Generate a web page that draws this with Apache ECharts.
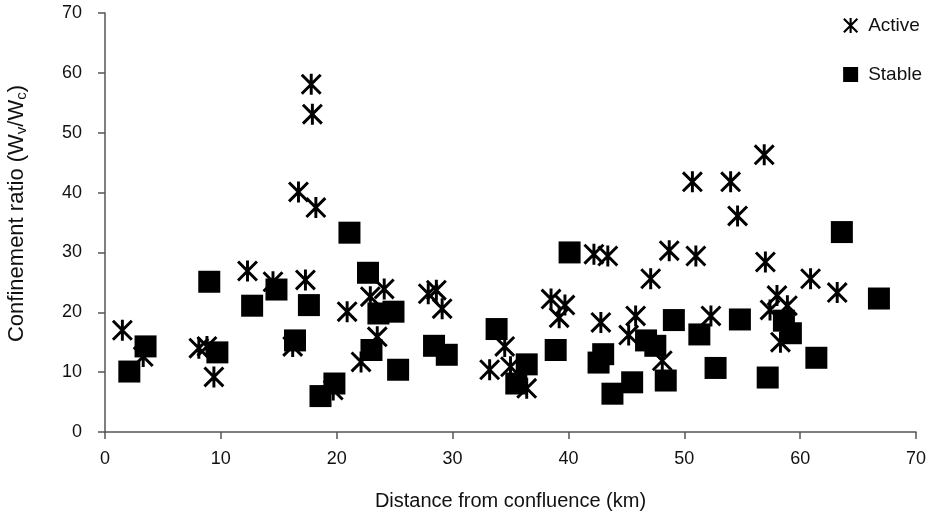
<!DOCTYPE html>
<html>
<head>
<meta charset="utf-8">
<title>Confinement ratio vs distance</title>
<script src="https://cdn.jsdelivr.net/npm/echarts@6/dist/echarts.min.js"></script>
<style>
  html, body { margin: 0; padding: 0; background: #fff; }
  #chart { width: 933px; height: 514px; }
</style>
</head>
<body>
<div id="chart"></div>
<script>
// distance from confluence (km), confinement ratio
const activeX = [1.5, 3.3, 8.1, 8.8, 9.4, 12.3, 14.5, 16.2, 16.7, 17.3, 17.8, 17.9, 18.2, 19.7,
  20.9, 22.1, 22.9, 23.5, 24.1, 27.9, 28.6, 29.1, 33.2, 34.5, 35.0, 36.4, 38.5, 39.2, 39.7,
  42.2, 43.4, 42.8, 45.2, 45.8, 47.1, 48.1, 48.7, 50.7, 51.0, 52.3, 54.0, 54.6, 56.9, 57.0,
  57.4, 58.0, 58.9, 58.3, 60.9, 63.2];
const activeY = [17.0, 12.6, 14.0, 14.3, 9.2, 26.9, 25.1, 14.3, 40.1, 25.4, 58.1, 53.1, 37.5, 7.0,
  20.1, 11.7, 22.6, 15.9, 23.9, 23.1, 23.7, 20.6, 10.4, 14.3, 10.9, 7.3, 22.2, 19.1, 21.2,
  29.7, 29.4, 18.3, 16.2, 19.4, 25.6, 11.9, 30.3, 41.8, 29.4, 19.4, 41.8, 36.1, 46.3, 28.4,
  20.4, 22.8, 21.1, 15.0, 25.6, 23.3];

const stableX = [2.1, 3.5, 9.0, 9.7, 12.7, 14.8, 16.4, 17.6, 18.6, 19.8, 21.1, 22.7, 23.0, 23.6,
  24.9, 25.3, 28.4, 29.5, 33.8, 35.5, 36.4, 38.9, 40.1, 42.6, 43.0, 43.8, 45.5, 46.7, 47.5,
  48.4, 49.1, 51.3, 52.7, 54.8, 57.2, 58.6, 59.2, 61.4, 63.6, 66.8];
const stableY = [10.1, 14.3, 25.1, 13.3, 21.1, 23.8, 15.3, 21.2, 6.0, 8.1, 33.3, 26.6, 13.7, 19.8,
  20.1, 10.4, 14.4, 12.9, 17.2, 8.1, 11.3, 13.7, 30.0, 11.6, 13.0, 6.4, 8.3, 15.3, 14.4,
  8.6, 18.7, 16.3, 10.7, 18.8, 9.1, 18.6, 16.5, 12.4, 33.4, 22.3];

const xTicks = { min: 0, max: 70, interval: 10 };
const yTicks = { min: 0, max: 70, interval: 10 };

// asterisk: vertical bar plus two diagonals, all wound the same way
const asterisk = 'path://M8.6 0L11.4 0L11.4 20L8.6 20Z' +
  'M2 0L20 18L18 20L0 2Z' +
  'M18 0L20 2L2 20L0 18Z';

const pairs = (xs, ys) => xs.map((x, i) => [x, ys[i]]);

const chart = echarts.init(document.getElementById('chart'));
const font = '"Liberation Sans", Arial, sans-serif';

const axisCommon = {
  axisLine: { lineStyle: { color: '#555', width: 1.5 } },
  axisTick: { show: true, length: 7, lineStyle: { color: '#555', width: 1.5 } },
  axisLabel: { color: '#111', fontSize: 18, fontFamily: font },
  splitLine: { show: false },
  nameTextStyle: { color: '#111', fontSize: 20, fontFamily: font }
};

chart.setOption({
  animation: false,
  grid: { left: 105, right: 17, top: 13, bottom: 82, outerBoundsMode: 'none', containLabel: false },
  legend: {
    orient: 'vertical',
    right: 6,
    top: 11,
    itemGap: 30,
    itemWidth: 15,
    itemHeight: 15,
    textStyle: { color: '#111', fontSize: 19, fontFamily: font, padding: [0, 0, 0, 5] },
    data: [
      { name: 'Active', icon: asterisk },
      { name: 'Stable', icon: 'rect' }
    ]
  },
  xAxis: Object.assign({}, axisCommon, {
    type: 'value',
    min: xTicks.min, max: xTicks.max, interval: xTicks.interval,
    name: 'Distance from confluence (km)',
    nameLocation: 'middle',
    nameGap: 59,
    axisLabel: Object.assign({}, axisCommon.axisLabel, { margin: 18 })
  }),
  yAxis: Object.assign({}, axisCommon, {
    type: 'value',
    min: yTicks.min, max: yTicks.max, interval: yTicks.interval,
    name: 'Confinement ratio (W{sub|v}/W{sub|c})',
    nameLocation: 'middle',
    nameGap: 76,
    nameTextStyle: Object.assign({}, axisCommon.nameTextStyle, {
      fontSize: 22,
      padding: [0, 0, 0, 18],
      rich: { sub: { fontSize: 15, fontFamily: font, verticalAlign: 'bottom', padding: [10, 0, 0, 0], color: '#111' } }
    }),
    axisLabel: Object.assign({}, axisCommon.axisLabel, { margin: 23 })
  }),
  series: [
    {
      name: 'Active',
      type: 'scatter',
      symbol: asterisk,
      symbolSize: 21,
      itemStyle: { color: '#000', opacity: 1 },
      data: pairs(activeX, activeY),
      z: 2
    },
    {
      name: 'Stable',
      type: 'scatter',
      symbol: 'rect',
      symbolSize: 22,
      itemStyle: { color: '#000', opacity: 1 },
      data: pairs(stableX, stableY),
      z: 3
    }
  ]
});
</script>
</body>
</html>
